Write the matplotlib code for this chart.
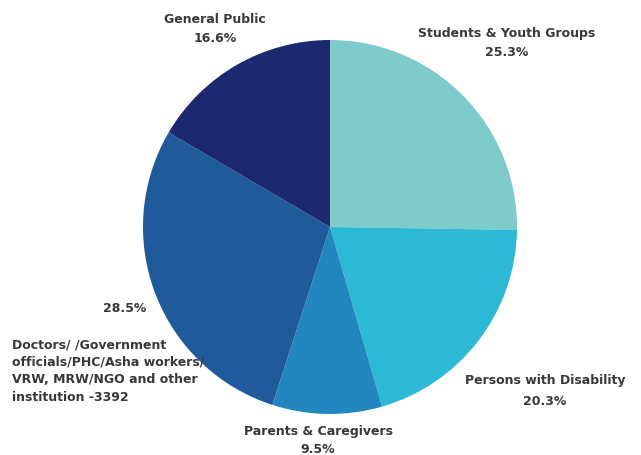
import matplotlib.pyplot as plt

# slice data, clockwise from 12 o'clock
groups = ['Students & Youth Groups', 'Persons with Disability', 'Parents & Caregivers',
          'Doctors/ /Government officials/PHC/Asha workers/VRW, MRW/NGO and other institution -3392',
          'General Public']
shares = [25.3, 20.3, 9.5, 28.5, 16.6]
colors = ['#7ecbcc', '#2bb9d5', '#2287be', '#1f5b9b', '#1c2870']

fig = plt.figure(figsize=(6.41, 4.56), dpi=100)
ax = fig.add_axes([0, 0, 1, 1])
ax.pie(shares, colors=colors, startangle=90, counterclock=False,
       center=(330, 228), radius=187, frame=True,
       wedgeprops=dict(linewidth=0))
ax.set_xlim(0, 641)
ax.set_ylim(0, 456)
ax.set_aspect('equal')
ax.axis('off')

H = 456
tk = dict(fontsize=9, color='#383838', fontweight='semibold', family='DejaVu Sans')
ax.text(215, H - 29, 'General Public\n%.1f%%' % shares[4], ha='center', va='center', linespacing=1.55, **tk)
ax.text(507, H - 43, 'Students & Youth Groups\n%.1f%%' % shares[0], ha='center', va='center', linespacing=1.65, **tk)
ax.text(125, H - 308, '%.1f%%' % shares[3], ha='center', va='center', **tk)
ax.text(12, H - 371, 'Doctors/ /Government\nofficials/PHC/Asha workers/\nVRW, MRW/NGO and other\ninstitution -3392',
        ha='left', va='center', linespacing=1.45, **tk)
ax.text(545, H - 391, 'Persons with Disability\n%.1f%%' % shares[1], ha='center', va='center', linespacing=1.75, **tk)
ax.text(318, H - 441, 'Parents & Caregivers\n%.1f%%' % shares[2], ha='center', va='center', linespacing=1.5, **tk)

plt.savefig('out.png', dpi=100)
